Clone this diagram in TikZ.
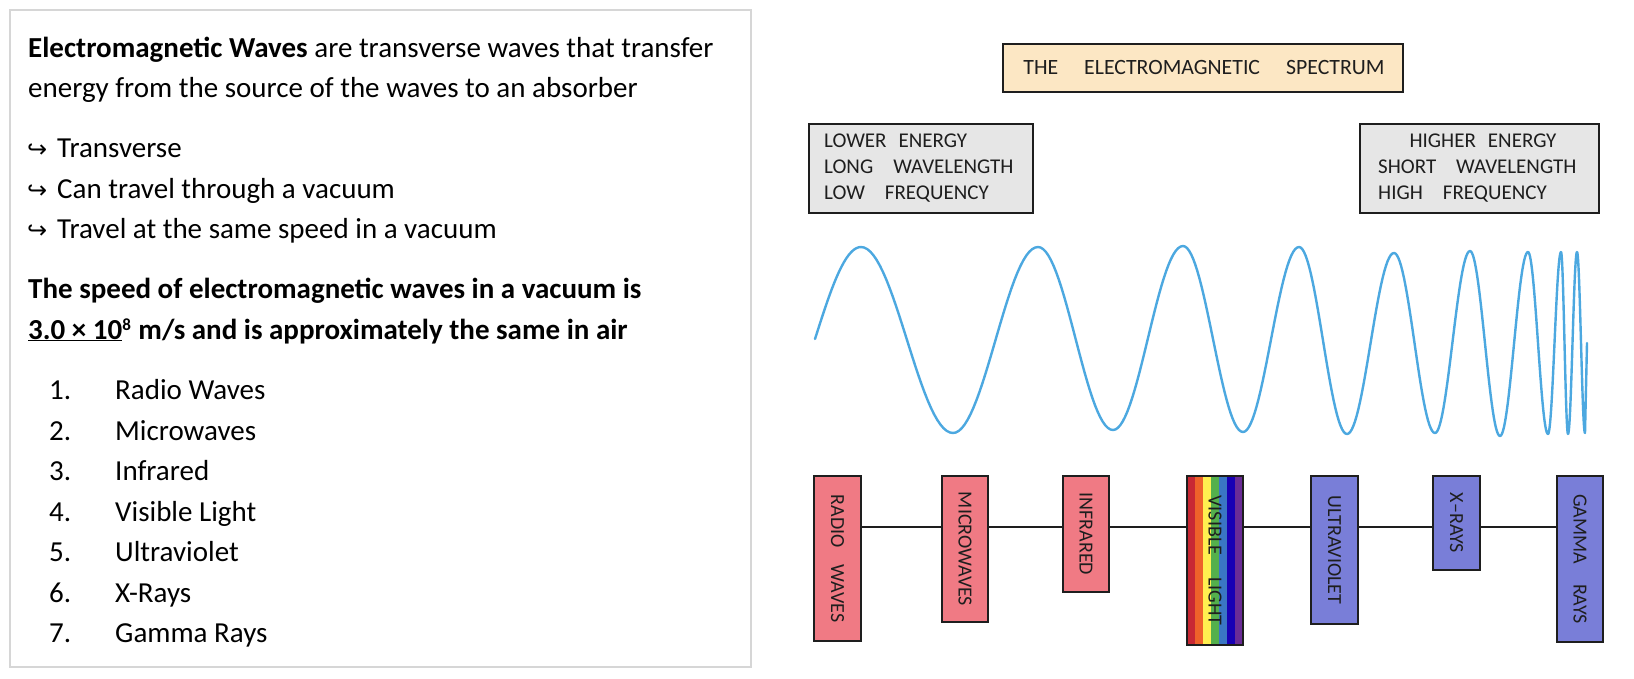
\documentclass[tikz,border=0pt]{standalone}
\usepackage{fontspec}
\setmainfont{Carlito}
\newfontfamily\arrowfont{DejaVu Sans}
\definecolor{pinkbox}{RGB}{240,122,132}
\definecolor{bluebox}{RGB}{121,126,216}
\definecolor{peach}{RGB}{252,231,196}
\definecolor{graybox}{RGB}{230,230,230}
\definecolor{wavecol}{RGB}{76,168,224}
\definecolor{panelcol}{RGB}{214,214,214}
\definecolor{inkcol}{RGB}{30,30,30}
\definecolor{vR}{RGB}{200,40,52}
\definecolor{vO}{RGB}{238,98,42}
\definecolor{vY}{RGB}{255,240,80}
\definecolor{vG}{RGB}{84,176,76}
\definecolor{vB}{RGB}{58,118,196}
\definecolor{vD}{RGB}{24,0,180}
\definecolor{vP}{RGB}{106,44,150}
\begin{document}
\begin{tikzpicture}[x=1pt,y=-1pt,
  txt/.style={inner sep=0pt, anchor=base west, font=\fontsize{29}{35}\selectfont, text=black},
  arr/.style={inner sep=0pt, anchor=base west, font=\arrowfont\fontsize{24}{26}\selectfont, text=black},
  panel/.style={draw=panelcol, line width=1.8pt, inner sep=0pt},
  hbox/.style={draw=inkcol, line width=1.2pt, inner sep=0pt},
  htxt/.style={inner sep=0pt, anchor=base west, font=\fontsize{21}{24}\selectfont, text=inkcol},
  specbox/.style={draw=inkcol, line width=1.2pt, inner sep=0pt, text=inkcol, font=\fontsize{20}{22}\selectfont},
  spine/.style={draw=inkcol, line width=1.5pt},
  wave/.style={draw=wavecol, line width=2.4pt, line cap=round, line join=round}
]
\useasboundingbox (0,0) rectangle (1634,678);
\fill[white] (0,0) rectangle (1634,678);

% ---------- left panel ----------
\node[panel, minimum width=741pt, minimum height=657pt] (panel) at (380.5,338.5) {};

\node[txt] (l1) at (28,57) {\textbf{Electromagnetic Waves} are transverse waves that transfer};
\node[txt] (l2) at (28,97) {energy from the source of the waves to an absorber};

\node[arr] (a1) at (27,157) {↪};
\node[txt] (b1) at (57,157) {Transverse};
\node[arr] (a2) at (27,198) {↪};
\node[txt] (b2) at (57,198) {Can travel through a vacuum};
\node[arr] (a3) at (27,238) {↪};
\node[txt] (b3) at (57,238) {Travel at the same speed in a vacuum};

\node[txt] (s1) at (28,298) {\textbf{The speed of electromagnetic waves in a vacuum is}};
\node[txt] (s2) at (28,339) {\textbf{\underline{3.0 × 10}\raisebox{9pt}{\fontsize{17}{17}\selectfont 8}\hspace{1pt} m/s and is approximately the same in air}};

\foreach \n/\item/\yy in {1/Radio Waves/399, 2/Microwaves/440, 3/Infrared/480, 4/Visible Light/521, 5/Ultraviolet/561, 6/X-Rays/602, 7/Gamma Rays/642}{
  \node[txt] (n\n) at (49,\yy) {\n.};
  \node[txt] (i\n) at (115,\yy) {\item};
}

% ---------- right: header boxes ----------
\node[hbox, fill=peach, minimum width=400pt, minimum height=48pt] (title) at (1203,68) {};
\node[inner sep=0pt, font=\fontsize{21.8}{24}\selectfont, text=inkcol] (titletxt) at (1204,68)
  {THE\hspace{26pt}ELECTROMAGNETIC\hspace{26pt}SPECTRUM};

\node[hbox, fill=graybox, minimum width=224pt, minimum height=89pt] (low) at (921,168.5) {};
\node[htxt] (low1) at (824,147.5) {LOWER\hspace{12pt}ENERGY};
\node[htxt] (low2) at (824,173.5) {LONG\hspace{20pt}WAVELENGTH};
\node[htxt] (low3) at (824,199.5) {LOW\hspace{20pt}FREQUENCY};

\node[hbox, fill=graybox, minimum width=239pt, minimum height=89pt] (high) at (1479.5,168.5) {};
\node[htxt, anchor=base] (high1) at (1483,147.5) {HIGHER\hspace{12pt}ENERGY};
\node[htxt] (high2) at (1378,173.5) {SHORT\hspace{20pt}WAVELENGTH};
\node[htxt] (high3) at (1378,199.5) {HIGH\hspace{20pt}FREQUENCY};

% ---------- wave ----------
\draw[wave] plot[domain=0:90,samples=20,variable=\t] ({815+46*(\t/90)},{339-92*sin(\t)})
  \foreach \xa/\ya/\xb/\yb in {861/247/953/433, 953/433/1038/247, 1038/247/1113/430, 1113/430/1183/246,
     1183/246/1243/432, 1243/432/1299/247, 1299/247/1347/434, 1347/434/1394/253, 1394/253/1435/433,
     1435/433/1470/251, 1470/251/1500/436, 1500/436/1528/252, 1528/252/1548/434, 1548/434/1561/252,
     1561/252/1568/434, 1568/434/1577/252, 1577/252/1585/433}
  { -- plot[domain=0:180,samples=30,variable=\t] ({\xa+(\xb-\xa)*(\t/180)},{(\ya+\yb)/2+(\ya-\yb)/2*cos(\t)}) }
  -- (1587,343);

% ---------- spectrum boxes ----------
\coordinate (spineY) at (0,527);
\node[specbox, fill=pinkbox, minimum width=47pt, minimum height=165pt] (radio) at (837.5,558.5)
  {\rotatebox{-90}{RADIO\hspace{17pt}WAVES}};
\node[specbox, fill=pinkbox, minimum width=46pt, minimum height=146pt] (micro) at (965,549)
  {\rotatebox{-90}{MICROWAVES}};
\node[specbox, fill=pinkbox, minimum width=46pt, minimum height=116pt] (infra) at (1086,534)
  {\rotatebox{-90}{INFRARED}};
\node[specbox, minimum width=56pt, minimum height=169pt,
  path picture={
    \foreach \c [count=\i from 0] in {vR,vO,vY,vG,vB,vD,vP}
      \fill[\c] ([xshift=\i*8pt]path picture bounding box.north west) rectangle ([xshift=\i*8pt+8pt]path picture bounding box.south west);
  }] (vis) at (1215,560.5)
  {\rotatebox{-90}{VISIBLE\hspace{22pt}LIGHT}};
\node[specbox, fill=bluebox, minimum width=47pt, minimum height=148pt] (uv) at (1334.5,550)
  {\rotatebox{-90}{ULTRAVIOLET}};
\node[specbox, fill=bluebox, minimum width=47pt, minimum height=94pt] (xray) at (1456.5,523)
  {\rotatebox{-90}{X--RAYS}};
\node[specbox, fill=bluebox, minimum width=46pt, minimum height=166pt] (gamma) at (1580,559)
  {\rotatebox{-90}{GAMMA\hspace{20pt}RAYS}};

\draw[spine] (radio.east |- spineY) -- (micro.west |- spineY);
\draw[spine] (micro.east |- spineY) -- (infra.west |- spineY);
\draw[spine] (infra.east |- spineY) -- (vis.west |- spineY);
\draw[spine] (vis.east |- spineY) -- (uv.west |- spineY);
\draw[spine] (uv.east |- spineY) -- (xray.west |- spineY);
\draw[spine] (xray.east |- spineY) -- (gamma.west |- spineY);
\end{tikzpicture}
\end{document}
